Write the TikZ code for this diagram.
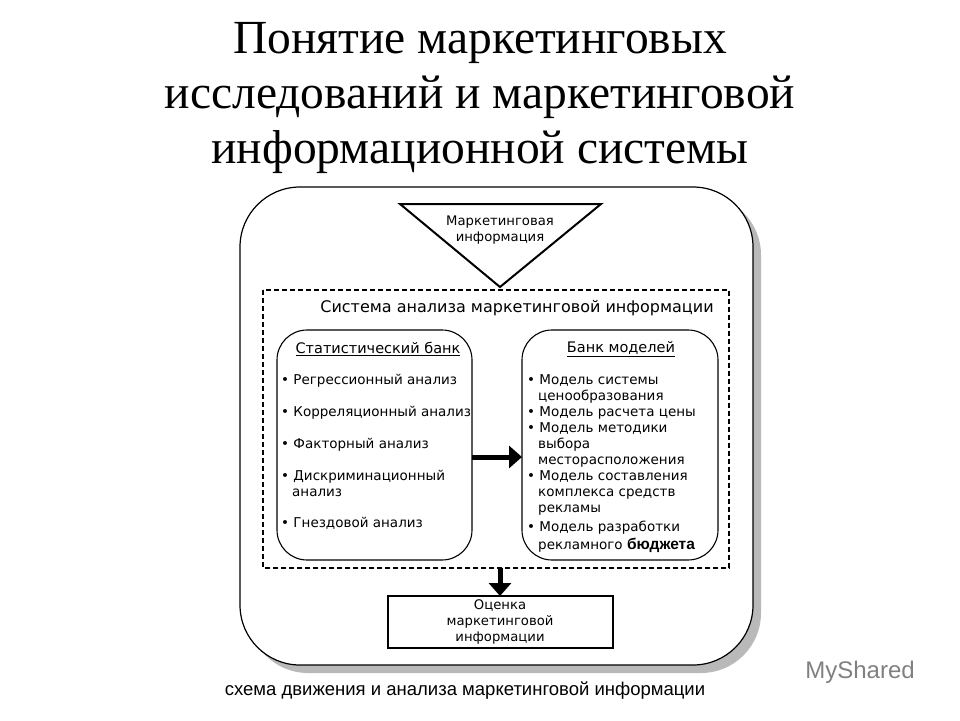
\documentclass[tikz,border=0pt]{standalone}
\usepackage{fontspec}
\setmainfont{Liberation Serif}
\newfontfamily\dv{DejaVu Sans}
\newfontfamily\ls{Liberation Sans}
\usetikzlibrary{arrows.meta}
\begin{document}
\begin{tikzpicture}[x=1pt,y=-1pt,
  txt/.style={font=\dv\fontsize{13.5}{16}\selectfont,align=left,anchor=north west,inner sep=0},
  fat/.style={line width=5pt,-{Triangle[length=13pt,width=22pt]}}]
\useasboundingbox (0,0) rectangle (960,720);
\node[align=center,font=\fontsize{47.5}{55}\selectfont] (t) at (480,98) {Понятие маркетинговых\\исследований и маркетинговой\\информационной системы};
\fill[gray!55,rounded corners=60pt] (248,195) rectangle (761,673);
\draw[line width=1.2pt,fill=white,rounded corners=60pt] (240,187) rectangle (753,665);
\draw[line width=2pt,fill=white] (400,204) -- (601,204) -- (500,287) -- cycle;
\node[font=\dv\fontsize{13.2}{16}\selectfont,align=center] (mi) at (500,230) {Маркетинговая\\информация};
\draw[dash pattern=on 5pt off 3pt,line width=1.3pt] (263,290) rectangle (729,568);
\node[font=\dv\fontsize{16}{18}\selectfont] (sa) at (517,308) {Система анализа маркетинговой информации};
\draw[line width=1.1pt,rounded corners=30pt] (277,330) rectangle (472,560);
\draw[line width=1.1pt,rounded corners=30pt] (522,330) rectangle (718,560);
\coordinate (L) at (472,457); \coordinate (R) at (522,457);
\node[font=\dv\fontsize{14.5}{16}\selectfont] (sb) at (378,349) {\underline{Статистический банк}};
\node[font=\dv\fontsize{14.5}{16}\selectfont] (bm) at (621,349) {\underline{Банк моделей}};
\node[txt] (l1) at (281,374) {• Регрессионный анализ};
\node[txt] (l2) at (281,406) {• Корреляционный анализ};
\node[txt] (l3) at (281,438) {• Факторный анализ};
\node[txt] (l4) at (281,470) {• Дискриминационный\\\hspace*{11pt}анализ};
\node[txt] (l5) at (281,517) {• Гнездовой анализ};
\node[txt] (r1) at (527,374) {• Модель системы\\\hspace*{11pt}ценообразования\\• Модель расчета цены\\• Модель методики\\\hspace*{11pt}выбора\\\hspace*{11pt}месторасположения\\• Модель составления\\\hspace*{11pt}комплекса средств\\\hspace*{11pt}рекламы};
\node[txt] (r2) at (527,521) {• Модель разработки\\[2pt]\hspace*{11pt}рекламного {\fontsize{15.5}{16}\selectfont\bfseries\ls бюджета}};
\draw[fat] (L) -- (R);
\draw[line width=1.1pt] (388,596) rectangle (613,648);
\node[font=\dv\fontsize{13.2}{16}\selectfont,align=center] (oc) at (500,622) {Оценка\\маркетинговой\\информации};
\coordinate (D1) at (500,568); \coordinate (D2) at (500,596);
\draw[fat] (D1) -- (D2);
\node[font=\ls\fontsize{18.5}{20}\selectfont] (cap) at (465,691) {схема движения и анализа маркетинговой информации};
\node[font=\ls\fontsize{24}{26}\selectfont,text=gray] (ms) at (860,672) {MyShared};
\end{tikzpicture}
\end{document}
